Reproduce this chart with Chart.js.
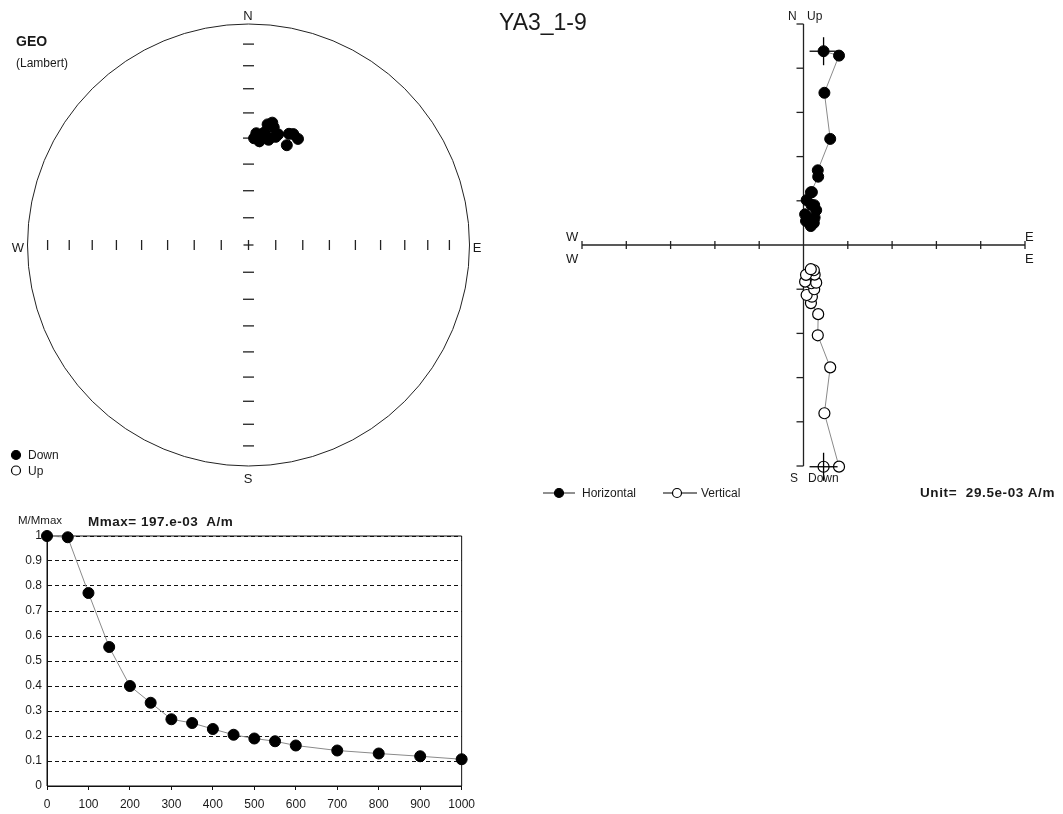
<!DOCTYPE html>
<html>
<head>
<meta charset="utf-8">
<script src="https://cdn.jsdelivr.net/npm/chart.js@4.4.1/dist/chart.umd.min.js"></script>
<style>
  body { margin: 0; background: #fff; width: 1063px; height: 814px; position: relative; overflow: hidden;
         font-family: "Liberation Sans", Arial, sans-serif; color: #1a1a1a; }
  canvas { position: absolute; }
  .t { position: absolute; white-space: pre; line-height: 1; transform: translateY(-50%); }
  .c { position: absolute; white-space: pre; line-height: 1; transform: translate(-50%, -50%); }
  .b { font-weight: bold; }
</style>
</head>
<body>
<canvas id="stereo" width="500" height="490" style="left:0;top:0"></canvas>
<canvas id="zijd" width="523" height="510" style="left:540px;top:0"></canvas>
<canvas id="demag" width="482" height="304" style="left:0;top:510px"></canvas>

<!-- stereonet labels -->
<div class="t b" style="left:16px;top:41px;font-size:14px">GEO</div>
<div class="t" style="left:16px;top:63px;font-size:12px">(Lambert)</div>
<div class="c" style="left:248px;top:15px;font-size:13px">N</div>
<div class="c" style="left:248px;top:478px;font-size:13px">S</div>
<div class="c" style="left:18px;top:247px;font-size:13px">W</div>
<div class="c" style="left:477px;top:247px;font-size:13px">E</div>
<div class="t" style="left:28px;top:455px;font-size:12px">Down</div>
<div class="t" style="left:28px;top:471px;font-size:12px">Up</div>

<!-- zijderveld labels -->
<div class="t" style="left:499px;top:22px;font-size:23px">YA3_1-9</div>
<div class="t" style="left:788px;top:16px;font-size:12px">N</div>
<div class="t" style="left:807px;top:16px;font-size:12px">Up</div>
<div class="t" style="left:790px;top:478px;font-size:12px">S</div>
<div class="t" style="left:808px;top:478px;font-size:12px">Down</div>
<div class="t" style="left:566px;top:236px;font-size:13px">W</div>
<div class="t" style="left:566px;top:258px;font-size:13px">W</div>
<div class="t" style="left:1025px;top:236px;font-size:13px">E</div>
<div class="t" style="left:1025px;top:258px;font-size:13px">E</div>
<div class="t" style="left:582px;top:493px;font-size:12px">Horizontal</div>
<div class="t" style="left:701px;top:493px;font-size:12px">Vertical</div>
<div class="t b" style="left:920px;top:493px;font-size:13.5px;letter-spacing:0.6px">Unit=  29.5e-03 A/m</div>

<!-- demag labels -->
<div class="t" style="left:18px;top:521px;font-size:11.5px">M/Mmax</div>
<div class="t b" style="left:88px;top:522px;font-size:13.5px;letter-spacing:0.5px">Mmax= 197.e-03  A/m</div>

<script>
// demagnetisation steps (temperature / field) and measurements
const steps = [0, 50, 100, 150, 200, 250, 300, 350, 400, 450, 500, 550, 600, 700, 800, 900, 1000];
const mOverMax = [1.0, 0.995, 0.772, 0.556, 0.40, 0.333, 0.267, 0.252, 0.228, 0.205, 0.19, 0.179, 0.162, 0.142, 0.13, 0.119, 0.107];
const dec = [5.9, 10.6, 7.8, 14.1, 10.8, 12.1, 8, 9, 4, 15, 11, 20, 3, 22, 6, 25, 21];
const inc = [48.7, 49.0, 47.6, 48.2, 49.9, 44.7, 47.5, 44, 48, 47, 43, 45.5, 50, 45, 51, 46, 50];
const mmax = 197e-3;   // A/m
const unit = 29.5e-3;  // A/m per zijderveld tick
const zijdTicks = [-5, -4, -3, -2, -1, 1, 2, 3, 4, 5];
const incTicks = [10, 20, 30, 40, 50, 60, 70, 80];
const demagXTicks = [0, 100, 200, 300, 400, 500, 600, 700, 800, 900, 1000];
const demagYTicks = [0, 0.1, 0.2, 0.3, 0.4, 0.5, 0.6, 0.7, 0.8, 0.9, 1];

const rad = Math.PI / 180;
const fontFam = '"Liberation Sans", Arial, sans-serif';
Chart.defaults.font.family = fontFam;
Chart.defaults.animation = false;
Chart.defaults.plugins.legend.display = false;
Chart.defaults.plugins.tooltip.enabled = false;

const intensity = mOverMax.map(m => m * mmax / unit);
const horizPts = steps.map((s, i) => {
  const h = intensity[i] * Math.cos(inc[i] * rad);
  return { x: h * Math.sin(dec[i] * rad), y: h * Math.cos(dec[i] * rad) };
});
const vertPts = steps.map((s, i) => {
  const h = intensity[i] * Math.cos(inc[i] * rad);
  return { x: h * Math.sin(dec[i] * rad), y: -intensity[i] * Math.sin(inc[i] * rad) };
});
// equal-area (Lambert) projection, 1 = primitive circle
const lambert = i => Math.SQRT2 * Math.sin((90 - Math.abs(i)) / 2 * rad);
const stereoPts = steps.map((s, i) => {
  const r = lambert(inc[i]);
  return { x: r * Math.sin(dec[i] * rad), y: r * Math.cos(dec[i] * rad) };
});

function seg(ctx, x1, y1, x2, y2) {
  ctx.beginPath(); ctx.moveTo(x1, y1); ctx.lineTo(x2, y2); ctx.stroke();
}
function dot(ctx, x, y, r, fill) {
  ctx.beginPath(); ctx.arc(x, y, r, 0, Math.PI * 2);
  ctx.fillStyle = fill; ctx.fill(); ctx.strokeStyle = '#000'; ctx.lineWidth = 1.2; ctx.stroke();
}

// ---------- stereonet ----------
const stereoFrame = {
  id: 'stereoFrame',
  beforeDatasetsDraw(chart) {
    const { ctx, scales: { x, y } } = chart;
    const cx = x.getPixelForValue(0), cy = y.getPixelForValue(0);
    const r = x.getPixelForValue(1) - cx;
    ctx.save();
    ctx.strokeStyle = '#222'; ctx.lineWidth = 1;
    ctx.beginPath(); ctx.arc(cx, cy, r, 0, Math.PI * 2); ctx.stroke();
    ctx.lineWidth = 1.3;
    incTicks.forEach(i => {
      const d = lambert(i) * r;
      [-1, 1].forEach(s => {
        seg(ctx, cx + s * d, cy - 5, cx + s * d, cy + 5);
        seg(ctx, cx - 5.5, cy + s * d, cx + 5.5, cy + s * d);
      });
    });
    seg(ctx, cx - 5, cy, cx + 5, cy);
    seg(ctx, cx, cy - 5, cx, cy + 5);
    ctx.restore();
  },
  afterDatasetsDraw(chart) {
    const { ctx } = chart;
    const p = chart.getDatasetMeta(0).data[0];
    ctx.save();
    ctx.strokeStyle = '#000'; ctx.lineWidth = 1.3;
    seg(ctx, p.x - 8, p.y + 4, p.x + 8, p.y + 4);
    seg(ctx, p.x, p.y - 4, p.x, p.y + 12);
    // legend
    dot(ctx, 16, 455, 4.5, '#000');
    dot(ctx, 16, 470.5, 4.5, '#fff');
    ctx.restore();
  }
};

new Chart(document.getElementById('stereo'), {
  type: 'scatter',
  data: {
    datasets: [{
      data: stereoPts,
      pointRadius: 5.5,
      pointBackgroundColor: inc.map(i => i >= 0 ? '#000' : '#fff'),
      pointBorderColor: '#000',
      pointBorderWidth: 1,
      clip: false
    }]
  },
  options: {
    responsive: false,
    layout: { padding: { left: 27.5, right: 30.5, top: 24, bottom: 24 } },
    scales: {
      x: { type: 'linear', min: -1, max: 1, display: false },
      y: { type: 'linear', min: -1, max: 1, display: false }
    }
  },
  plugins: [stereoFrame]
});

// ---------- zijderveld ----------
const zijdFrame = {
  id: 'zijdFrame',
  beforeDatasetsDraw(chart) {
    const { ctx, scales: { x, y } } = chart;
    const x0 = x.getPixelForValue(0), y0 = y.getPixelForValue(0);
    ctx.save();
    ctx.strokeStyle = '#222'; ctx.lineWidth = 1.3;
    seg(ctx, x.getPixelForValue(-5), y0, x.getPixelForValue(5), y0);
    seg(ctx, x0, y.getPixelForValue(5), x0, y.getPixelForValue(-5));
    zijdTicks.forEach(u => {
      const px = x.getPixelForValue(u), py = y.getPixelForValue(u);
      seg(ctx, px, y0 - 4, px, y0 + 4);
      seg(ctx, x0 - 7, py, x0, py);
    });
    ctx.restore();
  },
  afterDatasetsDraw(chart) {
    const { ctx } = chart;
    ctx.save();
    ctx.strokeStyle = '#000'; ctx.lineWidth = 1.3;
    [0, 1].forEach(d => {
      const p = chart.getDatasetMeta(d).data[0];
      seg(ctx, p.x - 14, p.y, p.x + 14, p.y);
      seg(ctx, p.x, p.y - 14, p.x, p.y + 14);
    });
    // legend
    ctx.strokeStyle = '#222'; ctx.lineWidth = 1;
    seg(ctx, 3, 493, 35, 493);
    dot(ctx, 19, 493, 4.5, '#000');
    seg(ctx, 123, 493, 157, 493);
    dot(ctx, 137, 493, 4.5, '#fff');
    ctx.restore();
  }
};

new Chart(document.getElementById('zijd'), {
  type: 'scatter',
  data: {
    datasets: [
      {
        label: 'Horizontal',
        data: horizPts,
        showLine: true,
        borderColor: '#8a8a8a',
        borderWidth: 1,
        pointRadius: 5.5,
        pointBackgroundColor: '#000',
        pointBorderColor: '#000',
        pointBorderWidth: 1,
        clip: false
      },
      {
        label: 'Vertical',
        data: vertPts,
        showLine: true,
        borderColor: '#8a8a8a',
        borderWidth: 1,
        pointRadius: 5.5,
        pointBackgroundColor: '#fff',
        pointBorderColor: '#000',
        pointBorderWidth: 1.2,
        clip: false
      }
    ]
  },
  options: {
    responsive: false,
    layout: { padding: { left: 42, right: 38, top: 24, bottom: 44 } },
    scales: {
      x: { type: 'linear', min: -5, max: 5, display: false },
      y: { type: 'linear', min: -5, max: 5, display: false }
    }
  },
  plugins: [zijdFrame]
});

// ---------- demagnetisation curve ----------
const demagFrame = {
  id: 'demagFrame',
  beforeDatasetsDraw(chart) {
    const { ctx, scales: { x, y } } = chart;
    const l = x.getPixelForValue(0), r = x.getPixelForValue(1000);
    const t = y.getPixelForValue(1), b = y.getPixelForValue(0);
    ctx.save();
    ctx.strokeStyle = '#111'; ctx.lineWidth = 1;
    ctx.setLineDash([]);
    seg(ctx, l, t, r, t);
    seg(ctx, r, t, r, b);
    seg(ctx, l, t, l, b);
    seg(ctx, l, b, r, b);
    ctx.restore();
  }
};

new Chart(document.getElementById('demag'), {
  type: 'line',
  data: {
    datasets: [{
      data: steps.map((s, i) => ({ x: s, y: mOverMax[i] })),
      borderColor: '#8a8a8a',
      borderWidth: 1,
      pointRadius: 5.5,
      pointBackgroundColor: '#000',
      pointBorderColor: '#000',
      pointBorderWidth: 1,
      clip: false
    }]
  },
  options: {
    responsive: false,
    layout: { padding: { left: 0, right: 16, top: 26, bottom: 0 } },
    scales: {
      x: {
        type: 'linear', min: 0, max: 1000,
        afterBuildTicks: s => { s.ticks = demagXTicks.map(v => ({ value: v })); },
        afterFit: s => { s.height = 28; },
        ticks: { font: { size: 12 }, color: '#1a1a1a', padding: 7, maxRotation: 0, autoSkip: false, callback: v => String(v) },
        grid: { drawOnChartArea: false, drawTicks: true, tickLength: 4, color: '#111' },
        border: { color: '#111' }
      },
      y: {
        type: 'linear', min: 0, max: 1,
        afterBuildTicks: s => { s.ticks = demagYTicks.map(v => ({ value: v })); },
        afterFit: s => { s.width = 47; },
        ticks: { font: { size: 12 }, color: '#1a1a1a', padding: 5, callback: v => String(Math.round(v * 10) / 10) },
        grid: { drawTicks: false, color: '#111', lineWidth: 1 },
        border: { color: '#111', dash: [4, 3] }
      }
    }
  },
  plugins: [demagFrame]
});
</script>
</body>
</html>
